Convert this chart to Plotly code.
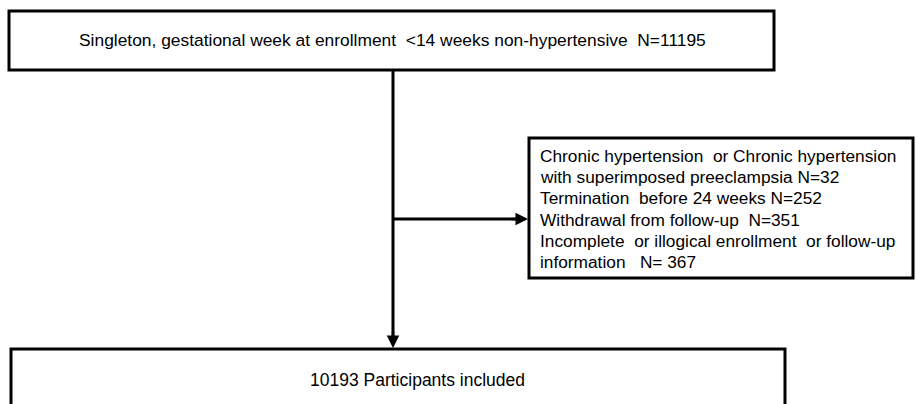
import plotly.graph_objects as go

top_label = "Singleton, gestational week at enrollment  <14 weeks non-hypertensive  N=11195"
excluded_lines = [
    "Chronic hypertension  or Chronic hypertension",
    "with superimposed preeclampsia N=32",
    "Termination  before 24 weeks N=252",
    "Withdrawal from follow-up  N=351",
    "Incomplete  or illogical enrollment  or follow-up",
    "information   N= 367",
]
bottom_label = "10193 Participants included"

W, H = 917, 404
fig = go.Figure()
fig.add_trace(go.Scatter(x=[0, W], y=[0, H], mode="markers", marker=dict(opacity=0), hoverinfo="skip", showlegend=False))

lw = 3
box_line = dict(color="black", width=lw)
# top box
fig.add_shape(type="rect", x0=9, y0=11, x1=774, y1=70, line=box_line, fillcolor="white")
# right box
fig.add_shape(type="rect", x0=529, y0=138, x1=913, y1=278, line=box_line, fillcolor="white")
# bottom box
fig.add_shape(type="rect", x0=11, y0=349, x1=785, y1=420, line=box_line, fillcolor="white")
# vertical line
fig.add_shape(type="line", x0=393, y0=70, x1=393, y1=340, line=box_line)
# horizontal branch
fig.add_shape(type="line", x0=393, y0=219, x1=518, y1=219, line=box_line)

# arrowheads
fig.add_annotation(x=393, y=348, ax=393, ay=330, xref="x", yref="y", axref="x", ayref="y",
                   showarrow=True, arrowhead=2, arrowsize=1, arrowwidth=2.5, arrowcolor="black", text="")
fig.add_annotation(x=528, y=219, ax=510, ay=219, xref="x", yref="y", axref="x", ayref="y",
                   showarrow=True, arrowhead=2, arrowsize=1, arrowwidth=2.5, arrowcolor="black", text="")

fam = "Liberation Sans, Arial, sans-serif"
fig.add_annotation(x=392, y=40, xref="x", yref="y", text=top_label, showarrow=False,
                   font=dict(family=fam, size=17.4, color="black"), xanchor="center", yanchor="middle")
y_first, step = 156, 21.2
for i, line in enumerate(excluded_lines):
    fig.add_annotation(x=538, y=y_first + i * step, xref="x", yref="y", text=line, showarrow=False,
                       font=dict(family=fam, size=17.3, color="black"),
                       xanchor="left", yanchor="middle", align="left")
fig.add_annotation(x=417, y=380, xref="x", yref="y", text=bottom_label, showarrow=False,
                   font=dict(family=fam, size=17.5, color="black"),
                   xanchor="center", yanchor="middle")

fig.update_layout(
    width=W, height=H, margin=dict(l=0, r=0, t=0, b=0),
    paper_bgcolor="white", plot_bgcolor="white",
    xaxis=dict(range=[0, W], visible=False, fixedrange=True),
    yaxis=dict(range=[H, 0], visible=False, fixedrange=True),
    showlegend=False,
)
fig.write_html("out.html", config={"displayModeBar": False},
               post_script="document.body.style.margin='0';document.body.style.overflow='hidden';")
